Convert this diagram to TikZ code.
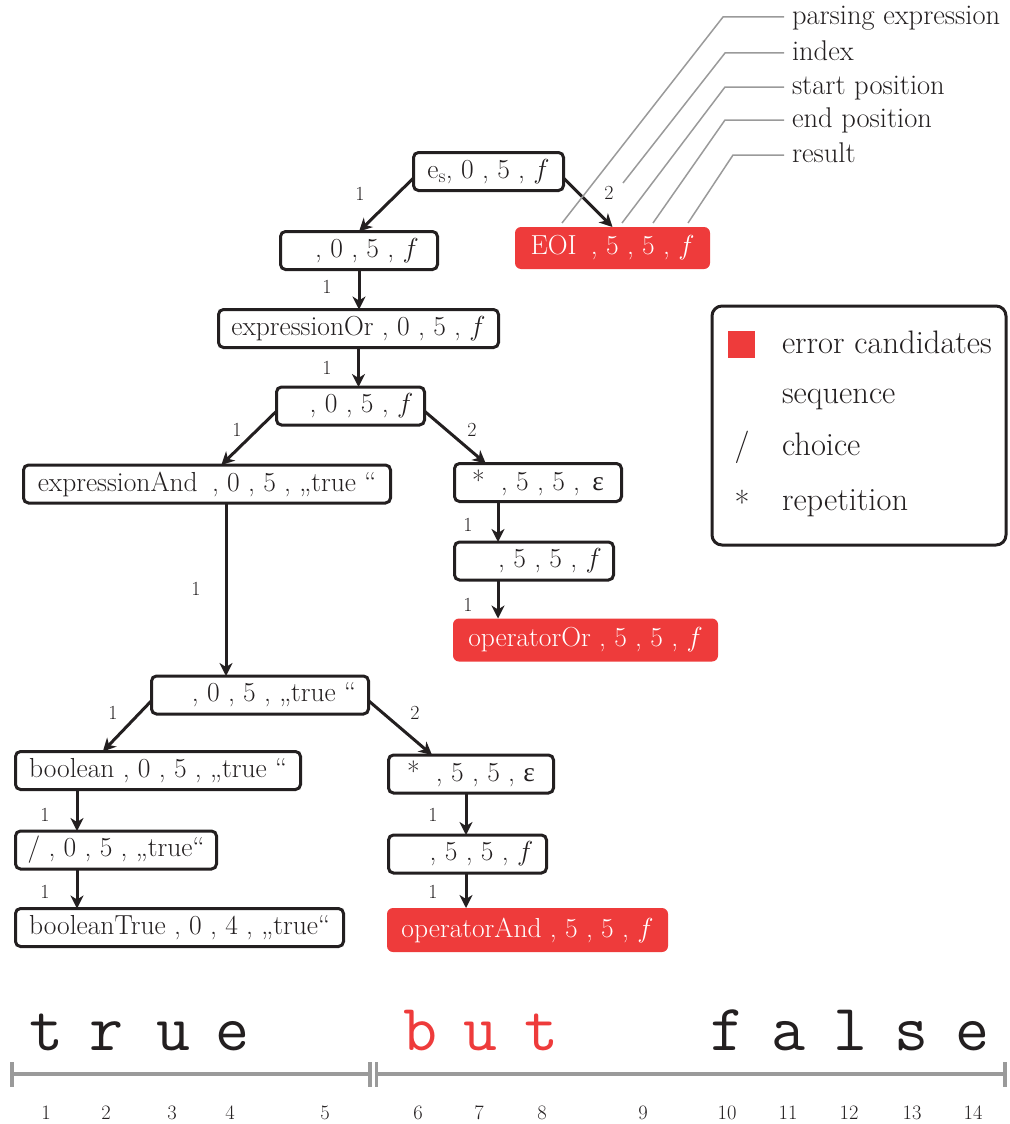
\documentclass[tikz,border=0pt]{standalone}
\usepackage{graphicx}
\usepackage{fontspec}
\newfontfamily\grk{Liberation Serif}
\usetikzlibrary{arrows.meta,calc}
\definecolor{ink}{HTML}{231F20}
\definecolor{errred}{HTML}{EE3B3B}
\definecolor{rulegray}{HTML}{9A9A9A}
\newcommand{\fh}{\scalebox{1.105}{$f$}}
\newcommand{\eps}{{\grk ε}}
\begin{document}
\begin{tikzpicture}[x=1pt,y=-1pt,
  every node/.style={inner sep=0pt, outer sep=0pt},
  pnode/.style={draw=ink, line width=3pt, rounded corners=5pt, minimum height=38pt, font=\fontsize{27.5}{32}\selectfont, text=ink},
  enode/.style={fill=errred, rounded corners=6pt, minimum height=42pt, font=\fontsize{27.5}{32}\selectfont, text=white},
  arr/.style={draw=ink, line width=3pt, -{Stealth[length=13pt,width=13pt,inset=4pt]}},
  elab/.style={font=\fontsize{20}{22}\selectfont, text=ink},
  ann/.style={draw=rulegray, line width=1.5pt},
  anntext/.style={font=\fontsize{28.5}{32}\selectfont, text=ink, anchor=base west, inner xsep=8pt},
  legtext/.style={font=\fontsize{32.5}{36}\selectfont, text=ink, anchor=base west},
  rl/.style={draw=rulegray, line width=3.5pt},
  ttch/.style={font=\fontsize{66}{70}\selectfont\ttfamily\addfontfeatures{FakeBold=1.2}, text=ink, anchor=base},
  num/.style={font=\fontsize{20.5}{23}\selectfont, text=ink, anchor=base}]
\useasboundingbox (0,0) rectangle (1009,1124);

% tree nodes
\node[pnode, minimum width=150pt] (root) at (488.5,171.5) {e\textsubscript{s}, 0 , 5 , \fh};
\node[pnode, minimum width=157pt] (n1) at (359,250.5) {\hspace*{16pt}, 0 , 5 , \fh};
\node[enode, minimum width=195pt] (eoi) at (612.5,248) {EOI\hspace{6pt} , 5 , 5 , \fh};
\node[pnode, minimum width=280pt] (eor) at (358.5,328.5) {expressionOr , 0 , 5 , \fh};
\node[pnode, minimum width=148pt] (n3) at (350.5,406) {\hspace*{22pt}, 0 , 5 , \fh};
\node[pnode, minimum width=367pt] (eand) at (207,484) {expressionAnd\hspace{6pt} , 0 , 5 , „true “};
\node[pnode, minimum width=167pt] (s1) at (538,482.5) {*\hspace{8pt} , 5 , 5 , \hspace{4pt}\eps};
\node[pnode, minimum width=159pt] (n5) at (534,561) {\hspace*{32pt}, 5 , 5 , \fh};
\node[enode, minimum width=265pt, minimum height=43pt] (oor) at (585.5,640) {operatorOr , 5 , 5 , \fh};
\node[pnode, minimum width=217pt] (n6) at (260,695) {\hspace*{28pt}, 0 , 5 , „true “};
\node[pnode, minimum width=285pt] (bool) at (158,770.5) {boolean , 0 , 5 , „true “};
\node[pnode, minimum width=201pt] (ch) at (116,850) {/ , 0 , 5 , „true“};
\node[pnode, minimum width=328pt] (bt) at (179.5,927.5) {booleanTrue , 0 , 4 , „true“};
\node[pnode, minimum width=165pt] (s2) at (471,774) {*\hspace{8pt} , 5 , 5 , \eps};
\node[pnode, minimum width=158pt] (n7) at (467.5,854) {\hspace*{28pt}, 5 , 5 , \fh};
\node[enode, minimum width=281pt, minimum height=44pt] (oand) at (527.5,930) {operatorAnd , 5 , 5 , \fh};

% edges
\draw[arr] (root.185) -- (n1.north);
\draw[arr] (root.355) -- (eoi.north);
\draw[arr] (n1.south) -- (n1.south |- eor.north);
\draw[arr] (eor.south) -- (eor.south |- n3.north);
\draw[arr] (n3.184) -- (eand.53);
\draw[arr] (n3.356) -- (s1.160);
\coordinate (ea) at ($(eand.south)+(19,0)$);
\draw[arr] (ea) -- (ea |- n6.north);
\coordinate (s1b) at ($(s1.south)+(-40,0)$);
\draw[arr] (s1b) -- (s1b |- n5.north);
\coordinate (n5b) at (s1b |- n5.south);
\draw[arr] (n5b) -- (n5b |- oor.north);
\draw[arr] (n6.183) -- (bool.161);
\draw[arr] (n6.357) -- (s2.154);
\coordinate (bb) at ($(bool.south)+(-81,0)$);
\draw[arr] (bb) -- (bb |- ch.north);
\coordinate (cb) at (bb |- ch.south);
\draw[arr] (cb) -- (cb |- bt.north);
\coordinate (s2b) at ($(s2.south)+(-5,0)$);
\draw[arr] (s2b) -- (s2b |- n7.north);
\coordinate (n7b) at (s2b |- n7.south);
\draw[arr] (n7b) -- (n7b |- oand.north);

% edge labels
\node[elab] (l1) at (360,194) {1};
\node[elab] (l2) at (609,193) {2};
\node[elab] (l3) at (327,287) {1};
\node[elab] (l4) at (327,368) {1};
\node[elab] (l5) at (237,430) {1};
\node[elab] (l6) at (472,430) {2};
\node[elab] (l7) at (196,589) {1};
\node[elab] (l8) at (468,525) {1};
\node[elab] (l9) at (468,605) {1};
\node[elab] (l10) at (113,713) {1};
\node[elab] (l11) at (415,713) {2};
\node[elab] (l12) at (45,815) {1};
\node[elab] (l13) at (45,892) {1};
\node[elab] (l14) at (433,815) {1};
\node[elab] (l15) at (433,892) {1};

% annotations
\node[anntext] (t1) at (784,25) {parsing expression};
\node[anntext] (t2) at (784,60) {index};
\node[anntext] (t3) at (784,94) {start position};
\node[anntext] (t4) at (784,127) {end position};
\node[anntext] (t5) at (784,162) {result};
\coordinate (p1) at (562,223); \coordinate (k1) at (723,17);
\coordinate (p2) at (623,183); \coordinate (k2) at (725,53);
\coordinate (p3) at (622,223); \coordinate (k3) at (725,87);
\coordinate (p4) at (653,223); \coordinate (k4) at (725,120);
\coordinate (p5) at (688,223); \coordinate (k5) at (733,155);
\draw[ann] (p1) -- (k1) -- (k1 -| t1.west);
\draw[ann] (p2) -- (k2) -- (k2 -| t2.west);
\draw[ann] (p3) -- (k3) -- (k3 -| t3.west);
\draw[ann] (p4) -- (k4) -- (k4 -| t4.west);
\draw[ann] (p5) -- (k5) -- (k5 -| t5.west);

% legend
\node[draw=ink, line width=3pt, rounded corners=10pt, minimum width=294pt, minimum height=239pt] (leg) at (859,425.5) {};
\node[fill=errred, minimum size=27pt] (sq) at (741.5,344.5) {};
\node[legtext] (g1) at (782,353) {error candidates};
\node[legtext] (g2) at (782,403) {sequence};
\node[legtext, anchor=base] (g3s) at (742,455) {/};
\node[legtext] (g3) at (782,455) {choice};
\node[legtext, anchor=base] (g4s) at (742,514) {*};
\node[legtext] (g4) at (782,510) {repetition};

% input string
\node[ttch] (c1) at (46,1050) {t};
\node[ttch] (c2) at (106,1050) {r};
\node[ttch] (c3) at (173,1050) {u};
\node[ttch] (c4) at (232,1050) {e};
\node[ttch, text=errred] (c6) at (420,1050) {b};
\node[ttch, text=errred] (c7) at (480,1050) {u};
\node[ttch, text=errred] (c8) at (541,1050) {t};
\node[ttch] (c10) at (727,1050) {f};
\node[ttch] (c11) at (788,1050) {a};
\node[ttch] (c12) at (850,1050) {l};
\node[ttch] (c13) at (911,1050) {s};
\node[ttch] (c14) at (972,1050) {e};

% ruler
\draw[rl] (12,1074) -- (370,1074);
\draw[rl] (376.5,1074) -- (1005,1074);
\draw[rl] (12,1062) -- (12,1087);
\draw[rl] (370,1062) -- (370,1087);
\draw[rl] (376.5,1062) -- (376.5,1087);
\draw[rl] (1005,1062) -- (1005,1087);

% indices
\node[num] (i1) at (46,1119) {1};
\node[num] (i2) at (106,1119) {2};
\node[num] (i3) at (172,1119) {3};
\node[num] (i4) at (230,1119) {4};
\node[num] (i5) at (325,1119) {5};
\node[num] (i6) at (418,1119) {6};
\node[num] (i7) at (479,1119) {7};
\node[num] (i8) at (542,1119) {8};
\node[num] (i9) at (643,1119) {9};
\node[num] (i10) at (727,1119) {10};
\node[num] (i11) at (788,1119) {11};
\node[num] (i12) at (849,1119) {12};
\node[num] (i13) at (912,1119) {13};
\node[num] (i14) at (973,1119) {14};
\end{tikzpicture}
\end{document}
